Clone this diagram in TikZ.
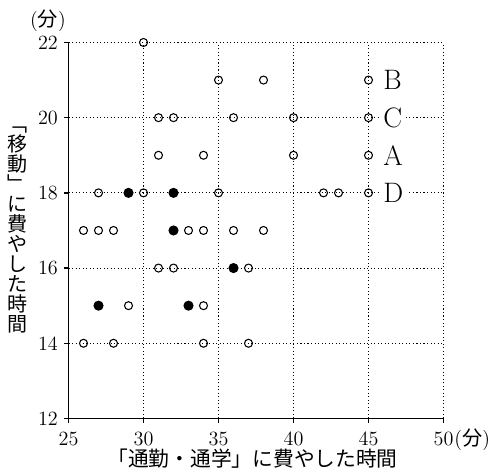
\documentclass[tikz,border=0pt]{standalone}
\usepackage{fontspec}
\usetikzlibrary{positioning}
\newfontfamily\jp{Noto Sans CJK JP}

\begin{document}
\begin{tikzpicture}[x=0.3cm, y=0.752cm,
    grid/.style={line width=0.6pt, dash pattern=on 0.6pt off 1.4pt},
    axis/.style={line width=0.8pt},
    opn/.style={circle, draw, line width=0.6pt, inner sep=0pt, minimum size=0.16cm},
    fil/.style={opn, fill=black, minimum size=0.18cm},
    num/.style={font=\fontsize{11.5}{12}\selectfont, inner sep=1pt},
    jtxt/.style={font=\fontsize{11.4}{11.4}\selectfont\jp, inner sep=0pt},
    tag/.style={font=\fontsize{16}{18}\selectfont, fill=white, inner sep=2pt}]
  \useasboundingbox (20.433,10.55) rectangle (53.567,23.13);
  % dotted grid
  \foreach \y in {14,16,...,22} \draw[grid] (25,\y) -- (50,\y);
  \foreach \x in {30,35,...,50} \draw[grid] (\x,12) -- (\x,22);
  % axes and ticks
  \draw[axis] (25,22) -- (25,12) -- (50,12);
  \foreach \y in {12,14,...,22}
    \draw[axis] (25,\y) -- ++(-0.1cm,0) node[num, left=1.8pt] (y\y) {\y};
  \foreach \x in {25,30,...,50}
    \draw[axis] (\x,12) -- ++(0,-0.1cm) node[num, below=3.5pt] (x\x) {\x};
  \node[num, above=0pt of y22] (yunit) {({\jp 分})};
  \node[num, anchor=base west, inner sep=0pt] (xunit) at ([xshift=-1pt]x50.base east) {({\jp 分})};
  % axis titles
  \node[jtxt, align=center] (ytitle) at (21.63,17.01) {﹁\\移\\動\\﹂\\に\\費\\や\\し\\た\\時\\間};
  \node[jtxt, font=\fontsize{11.8}{12}\selectfont\jp] (xtitle) at (37.27,10.92) {「通勤・通学」に費やした時間};
  % data
  \foreach \a/\b in {30/22, 35/21, 38/21, 45/21, 31/20, 32/20, 36/20, 40/20, 45/20,
      31/19, 34/19, 40/19, 45/19, 27/18, 30/18, 35/18, 42/18, 43/18, 45/18,
      26/17, 27/17, 28/17, 33/17, 34/17, 36/17, 38/17, 31/16, 32/16, 37/16,
      29/15, 34/15, 26/14, 28/14, 34/14, 37/14}
    \node[opn] (o\a-\b) at (\a,\b) {};
  \foreach \a/\b in {29/18, 32/18, 32/17, 36/16, 27/15, 33/15}
    \node[fil] (f\a-\b) at (\a,\b) {};
  % students
  \node[tag, right=0.13cm of o45-21] (B) {B};
  \node[tag, right=0.13cm of o45-20] (C) {C};
  \node[tag, right=0.13cm of o45-19] (A) {A};
  \node[tag, right=0.13cm of o45-18] (D) {D};
\end{tikzpicture}
\end{document}
